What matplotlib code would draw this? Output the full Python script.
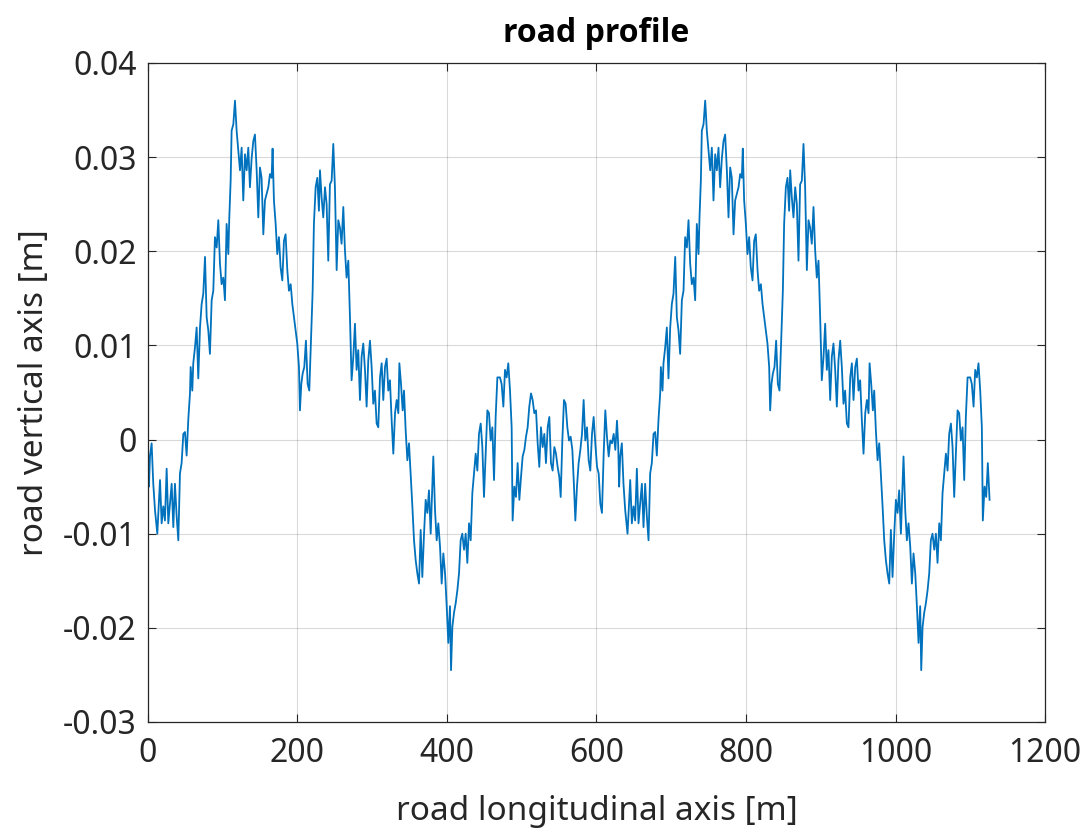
import numpy as np
import matplotlib
matplotlib.use("Agg")
import matplotlib.pyplot as plt

# One lap of the road profile: distance [m], height [mm]
lap_x = [0.0, 1.3, 2.7, 4.9, 7.1, 9.4, 12.5, 14.3, 16.1, 18.3, 20.5, 22.7, 25.0, 27.2,
         29.4, 31.7, 33.9, 36.1, 38.4, 40.6, 42.8, 45.0, 47.3, 49.5, 51.7, 54.0, 56.2,
         57.1, 59.3, 60.6, 62.9, 65.1, 67.3, 69.6, 71.8, 74.0, 76.3, 78.5, 80.7, 82.9,
         85.2, 87.4, 89.6, 91.9, 94.1, 96.3, 98.5, 100.8, 103.0, 105.2, 107.5, 108.8,
         110.6, 111.9, 114.2, 116.4, 118.6, 120.8, 123.1, 125.3, 127.5, 129.8, 132.0,
         134.2, 136.4, 138.7, 140.9, 143.1, 145.4, 147.6,
         149.8, 152.0, 154.3, 156.5, 158.7, 161.0, 163.2, 165.4, 166.7, 168.5, 170.8,
         173.0, 175.2, 177.4, 179.7, 181.9, 184.1, 186.4, 188.6, 190.9, 193.1, 195.3,
         197.5, 199.7, 202.0, 203.3, 205.1, 206.9, 209.1, 211.3, 213.6, 215.8, 218.0,
         220.3, 222.0, 224.3, 226.5, 228.7, 230.1, 232.3, 234.5, 236.8, 239.0, 241.2,
         243.4, 245.7, 247.9, 250.1, 252.4, 254.6, 256.8, 259.0, 261.3, 263.5, 265.7,
         268.0, 270.2, 272.4, 274.7, 276.9, 279.1, 281.3, 283.6, 285.8, 288.0, 290.3,
         292.5, 294.7, 297.0, 299.2, 301.4, 303.6, 305.9, 308.1,
         310.4, 312.6, 314.8, 317.1, 319.3, 321.5, 323.7, 326.0, 328.2, 330.5, 332.7,
         334.9, 336.3, 338.5, 340.7, 342.5, 344.7, 347.0, 349.2, 351.4, 353.7, 355.9,
         358.1, 360.3, 362.6, 364.8, 367.0, 369.3, 371.5, 373.7, 375.9, 378.2, 380.4,
         381.7, 384.0, 386.2, 388.4, 390.7, 392.9, 395.1, 397.4, 399.6, 401.8, 404.0,
         405.4, 407.2, 409.4, 411.6, 413.9, 416.1, 418.3, 420.5, 422.8, 425.0, 427.2,
         429.5, 431.7, 433.9, 436.2, 438.4, 440.6, 442.8, 445.1, 447.3, 449.5, 451.8,
         454.0, 456.2, 458.4, 460.7, 462.9, 465.1, 467.4,
         470.9, 473.1, 475.4, 477.6, 479.8, 482.0, 484.3, 486.5, 487.8, 490.1, 492.3,
         494.5, 496.8, 499.0, 501.2, 503.5, 505.7, 507.9, 510.1, 512.4, 514.6, 516.8,
         519.1, 521.3, 523.5, 525.7, 528.0, 530.2, 532.4, 534.7, 536.9, 539.1, 541.3,
         543.6, 545.8, 548.0, 550.3, 552.1, 554.3, 556.5, 558.7, 561.0, 563.2, 565.4,
         567.7, 569.9, 571.7, 573.9, 576.1, 578.4, 580.6, 582.8, 585.0, 587.3, 589.5,
         591.7, 594.0, 596.2, 598.4, 600.7, 602.9, 605.1, 607.3, 609.6, 611.8, 614.0,
         616.3, 618.5, 620.7, 623.0, 625.2, 627.4]
lap_h_mm = [-0.5, -5.0, -1.8, -0.4, -4.7, -7.5, -10.0, -7.1, -4.3, -8.9, -7.1, -8.6, -3.1,
            -8.9, -6.8, -4.7, -9.3, -4.7, -8.2, -10.7, -3.6, -2.5, 0.6, 0.8, -1.7, 2.2,
            4.9, 7.7, 5.2, 8.1, 9.8, 11.9, 6.5, 11.9, 14.4, 15.5, 19.4, 13.0, 11.6, 9.1,
            14.8, 15.8, 21.5, 20.4, 23.3, 18.7, 16.5, 17.2, 14.8, 22.9, 19.7, 23.6,
            27.5, 32.8, 33.5, 36.0, 32.8, 30.7, 28.6, 31.0, 25.4, 30.3, 28.6,
            31.0, 26.8, 29.9, 31.7, 32.4, 28.6, 23.6,
            28.9, 27.8, 21.8, 25.4, 26.1, 26.8, 28.2, 27.8, 30.9, 25.4, 22.9,
            19.7, 21.5, 18.3, 16.9, 21.1, 21.8, 18.0, 15.8, 16.5, 14.4, 13.0,
            11.6, 10.2, 7.7, 3.1, 5.9, 7.0, 7.7, 10.5, 5.9, 5.2, 10.5,
            15.8, 22.9, 26.8, 27.8, 24.3, 28.6, 25.7, 23.6, 26.8, 25.0, 19.0,
            27.1, 27.5, 31.4, 26.8, 18.0, 23.3, 22.5, 20.8, 24.7, 20.1, 17.2,
            19.0, 13.0, 6.3, 8.8, 12.3, 7.4, 9.5, 4.2, 8.8, 10.2, 7.4,
            3.5, 8.4, 10.5, 7.7, 3.8, 5.2, 1.7, 1.3,
            6.6, 8.1, 4.2, 7.7, 8.6, 5.2, 6.3, 2.0, -1.5, 2.8, 4.2,
            2.8, 8.1, 5.9, 3.1, 5.2, 1.0, -2.2, -0.4, -3.6, -7.1, -10.7,
            -12.8, -14.2, -15.3, -9.6, -14.6, -10.0, -6.4, -7.8, -5.4, -10.0, -5.0,
            -1.8, -7.5, -10.7, -8.9, -11.4, -15.3, -12.1, -14.2, -17.7, -21.6, -17.7,
            -24.5, -19.9, -18.4, -17.4, -16.0, -14.2, -10.7, -10.0, -11.7, -10.0, -13.1,
            -8.9, -10.7, -5.7, -3.6, -1.5, -3.3, 0.6, 1.7, -0.8, -6.1, -1.5,
            3.1, 2.8, -0.1, 1.3, -4.3, 2.4, 6.6,
            6.6, 5.9, 3.5, 7.4, 6.6, 8.1, 5.2, 1.3, -8.6, -5.0, -6.1,
            -2.5, -6.4, -4.0, -1.8, -1.1, 0.3, 1.3, 3.5, 4.9, 4.2, 2.8,
            3.1, -0.4, -2.9, 1.3, -0.8, 0.6, -2.5, 1.3, 2.4, -2.5, -3.3,
            -0.8, -1.5, -2.9, -4.0, -6.1, -0.1, 4.2, 3.8, 1.3, -0.1, 0.3,
            -1.1, -5.0, -8.6, -5.0, -2.5, -1.1, 0.6, 4.2, -0.1, 1.3, -2.2,
            -3.3, 0.6, 2.4, -0.4, -2.9, -3.6, -6.8, -7.8, -1.5, 3.1, 0.3,
            -1.8, -0.1, -0.4, 0.6, -1.1, 2.0]

lap_length = 629.0      # the profile repeats after this distance [m]
road_end = 1127.0       # last point of the profile [m]

lap_x = np.array(lap_x)
lap_h = np.array(lap_h_mm) / 1000.0
second = lap_x + lap_length <= road_end
x = np.concatenate([lap_x, lap_x[second] + lap_length])
z = np.concatenate([lap_h, lap_h[second]])

title = "road profile"
xlabel = "road longitudinal axis [m]"
ylabel = "road vertical axis [m]"
xticks = [0, 200, 400, 600, 800, 1000, 1200]
yticks = [-0.03, -0.02, -0.01, 0, 0.01, 0.02, 0.03, 0.04]
ytick_labels = ["-0.03", "-0.02", "-0.01", "0", "0.01", "0.02", "0.03", "0.04"]

plt.rcParams['font.family'] = ['Noto Sans', 'DejaVu Sans']
fig = plt.figure(figsize=(10.88, 8.33), dpi=100)
ax = fig.add_axes([0.136, 0.1333, 0.8245, 0.7911])
ax.plot(x, z, color="#0072BD", linewidth=1.3)
ax.set_xlim(0, 1200)
ax.set_ylim(-0.03, 0.04)
ax.set_xticks(xticks)
ax.set_yticks(yticks)
ax.set_yticklabels(ytick_labels)
ax.grid(True, color="#000000", alpha=0.15, linewidth=0.8)
ax.set_axisbelow(True)
ax.tick_params(direction="in", length=6, width=0.8, labelsize=23, colors="#262626",
               top=True, right=True)
ax.tick_params(axis="y", pad=8)
ax.tick_params(axis="x", pad=11)
for s in ax.spines.values():
    s.set_color("#262626")
    s.set_linewidth(0.9)
ax.set_xlabel(xlabel, fontsize=24, color="#262626", labelpad=18)
ax.set_ylabel(ylabel, fontsize=24, color="#262626", labelpad=9)
ax.set_title(title, fontsize=23, fontweight="bold", color="black", pad=15,
             family=['Open Sans', 'DejaVu Sans'])
fig.savefig("out.png", dpi=100)
